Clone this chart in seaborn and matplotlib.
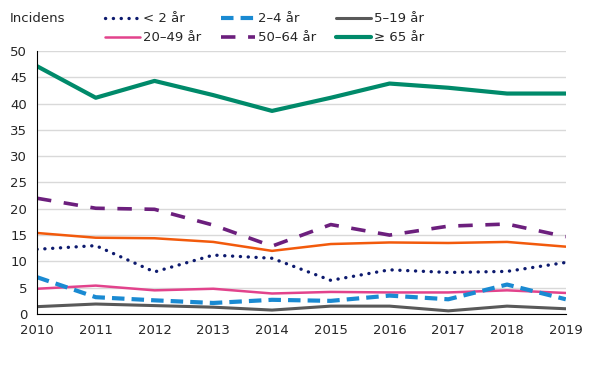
import pandas as pd
import seaborn as sns
import matplotlib.pyplot as plt

years = [2010, 2011, 2012, 2013, 2014, 2015, 2016, 2017, 2018, 2019]

under_2 = [12.3, 13.0, 8.0, 11.2, 10.6, 6.4, 8.4, 7.9, 8.1, 9.8]
age_2_4 = [7.0, 3.2, 2.6, 2.1, 2.7, 2.5, 3.5, 2.8, 5.6, 2.8]
age_5_19 = [1.4, 1.9, 1.6, 1.3, 0.75, 1.5, 1.5, 0.6, 1.5, 1.0]
age_20_49 = [4.8, 5.4, 4.5, 4.8, 3.9, 4.2, 4.1, 4.1, 4.5, 4.0]
age_50_64 = [22.0, 20.1, 19.9, 16.9, 12.9, 17.0, 15.0, 16.7, 17.1, 14.7]
age_65 = [47.1, 41.1, 44.3, 41.6, 38.6, 41.1, 43.8, 43.0, 41.9, 41.9]
total = [15.4, 14.5, 14.4, 13.7, 12.0, 13.3, 13.6, 13.5, 13.7, 12.8]

sns.set_style("white")
plt.rcParams["font.family"] = ["DejaVu Sans"]
plt.rcParams["font.size"] = 9

fig = plt.figure(figsize=(5.9, 3.69), dpi=100)
ax = fig.add_axes([0.0627, 0.149, 0.8963, 0.713])

series = [
    ("< 2 år", under_2, "#0d1a6e", 2.4, (0, (0.05, 2.3))),
    ("20\u201349 år", age_20_49, "#e2438c", 1.8, "-"),
    ("2\u20134 år", age_2_4, "#1a8ad2", 3.0, (0, (3.0, 1.7))),
    ("50\u201364 år", age_50_64, "#6c1f7d", 2.6, (0, (4, 3.5))),
    ("5\u201319 år", age_5_19, "#595959", 2.2, "-"),
    ("\u2265 65 år", age_65, "#008a6a", 3.0, "-"),
]

sns.lineplot(x=years, y=total, ax=ax, color="#f25a0c", linewidth=1.8,
             label="_nolegend_")
for name, vals, col, lw, ls in series:
    sns.lineplot(x=years, y=vals, ax=ax, color=col, linewidth=lw, label=name)
    ln = ax.lines[-1]
    ln.set_linestyle(ls)
    if name == "< 2 år":
        ln.set_dash_capstyle("round")

ax.set_xlim(2010, 2019)
ax.set_ylim(0, 50)
ax.set_xticks(years)
ax.set_yticks(range(0, 51, 5))
ax.yaxis.grid(True, color="#d9d9d9", linewidth=1)
ax.set_axisbelow(True)
for s in ["top", "right"]:
    ax.spines[s].set_visible(False)
for s in ["left", "bottom"]:
    ax.spines[s].set_color("black")
    ax.spines[s].set_linewidth(0.8)
ax.tick_params(axis="both", direction="out", length=4, width=0.8,
               labelsize=9.5, color="black", pad=3)
ax.set_xlabel("")
ax.set_ylabel("")

handles, labels = ax.get_legend_handles_labels()
ax.get_legend().remove()
leg = fig.legend(handles, labels, ncol=3, loc="upper left",
                 bbox_to_anchor=(100 / 590, 1 - 7 / 369), frameon=False,
                 handlelength=2.6, handletextpad=0.25, columnspacing=1.5,
                 labelspacing=0.45, fontsize=9.5, borderaxespad=0)
for h in leg.get_lines():
    if h.get_label() == "< 2 år":
        h.set_dash_capstyle("round")
fig.text(10 / 590, 1 - 18 / 369, "Incidens", fontsize=9.5, va="center")

plt.savefig("out.png", dpi=100)
